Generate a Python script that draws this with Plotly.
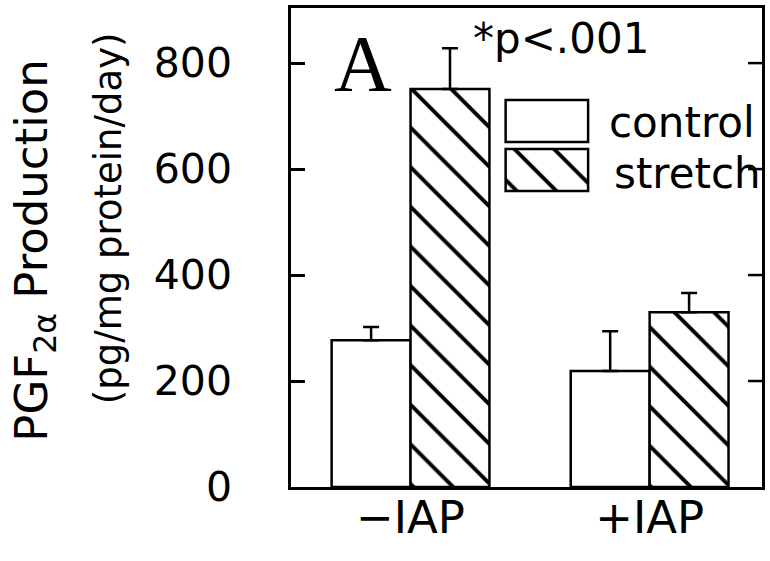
import plotly.graph_objects as go

groups = ["\u2212IAP", "+IAP"]
control = [277, 219]
control_err = [25, 75]
stretch = [751, 330]
stretch_err = [77, 36]
yticks = [0, 200, 400, 600, 800]
legend_labels = ["control", "stretch"]

FONT = "DejaVu Sans"
L, R, T, B = 291, 5, 8, 74
W, H = 770, 561
pw, ph = W - L - R, H - T - B

def px_x(x):
    return (x - L) / pw

def px_y(y):
    return (H - B - y) / ph

hatch = dict(shape="\\", size=28, solidity=0.14, fgcolor="black",
             bgcolor="white", fgopacity=1)

fig = go.Figure()
fig.add_trace(go.Bar(
    x=groups, y=control, name="control",
    marker=dict(color="white", line=dict(color="black", width=2.5)),
    error_y=dict(type="data", symmetric=False, array=control_err,
                 arrayminus=[0, 0], color="black", thickness=2.5, width=8),
    showlegend=False))
fig.add_trace(go.Bar(
    x=groups, y=stretch, name="stretch",
    marker=dict(color="white", line=dict(color="black", width=2.5), pattern=hatch),
    error_y=dict(type="data", symmetric=False, array=stretch_err,
                 arrayminus=[0, 0], color="black", thickness=2.5, width=8),
    showlegend=False))

# legend boxes drawn as bars on an inset axis
fig.add_trace(go.Bar(
    x=[1, 1], y=legend_labels, orientation="h", base=[0, 0],
    xaxis="x2", yaxis="y2", width=0.857,
    marker=dict(color="white", line=dict(color="black", width=2.5),
                pattern=dict(shape=["", "\\"], size=28, solidity=0.14,
                             fgcolor="black", bgcolor="white", fgopacity=1)),
    showlegend=False, hoverinfo="skip"))

# right-hand inward tick marks at the y tick values
for v in yticks[1:]:
    fig.add_shape(type="line", xref="paper", yref="y", x0=1, x1=1 - 14 / pw,
                  y0=v, y1=v, line=dict(color="black", width=2.5))

fig.update_layout(
    width=W, height=H,
    margin=dict(l=L, r=R, t=T, b=B),
    paper_bgcolor="white", plot_bgcolor="white",
    barmode="group", bargap=0.34, bargroupgap=0,
    font=dict(family=FONT, color="black"),
    xaxis=dict(range=[-0.5, 1.47], showline=True, linecolor="black",
               linewidth=2.5, mirror=True, ticks="", showgrid=False,
               tickfont=dict(size=45, family=FONT), ticklabelstandoff=-11),
    yaxis=dict(range=[0, 904], showline=True, linecolor="black",
               linewidth=2.5, mirror=True, ticks="inside", ticklen=14,
               tickwidth=2.5, tickcolor="black", tickvals=yticks,
               showgrid=False, zeroline=False,
               tickfont=dict(size=41, family=FONT), ticklabelstandoff=48),
    xaxis2=dict(domain=[px_x(502.85), px_x(594.15)], range=[-0.05, 1.05],
                anchor="y2", visible=False),
    yaxis2=dict(domain=[px_y(194.5), px_y(96.5)], range=[-0.5, 1.5],
                anchor="x2", visible=False, type="category",
                categoryorder="array", categoryarray=["stretch", "control"]),
)

ann = [
    dict(text="A", x=px_x(363), y=px_y(64), font=dict(size=80, family="Liberation Serif")),
    dict(text="*p<.001", x=px_x(563), y=px_y(38), font=dict(size=42)),
    dict(text="control", x=px_x(684), y=px_y(123), font=dict(size=42)),
    dict(text="stretch", x=px_x(690), y=px_y(173), font=dict(size=42)),
    dict(text="PGF<sub>2\u03b1</sub> Production", x=px_x(32), y=px_y(251),
         textangle=-90, font=dict(size=45)),
    dict(text="(pg/mg protein/day)", x=px_x(107), y=px_y(218),
         textangle=-90, font=dict(size=37)),
]
for a in ann:
    fig.add_annotation(xref="paper", yref="paper", showarrow=False,
                       xanchor="center", yanchor="middle", **a)

fig.write_html("out.html")
